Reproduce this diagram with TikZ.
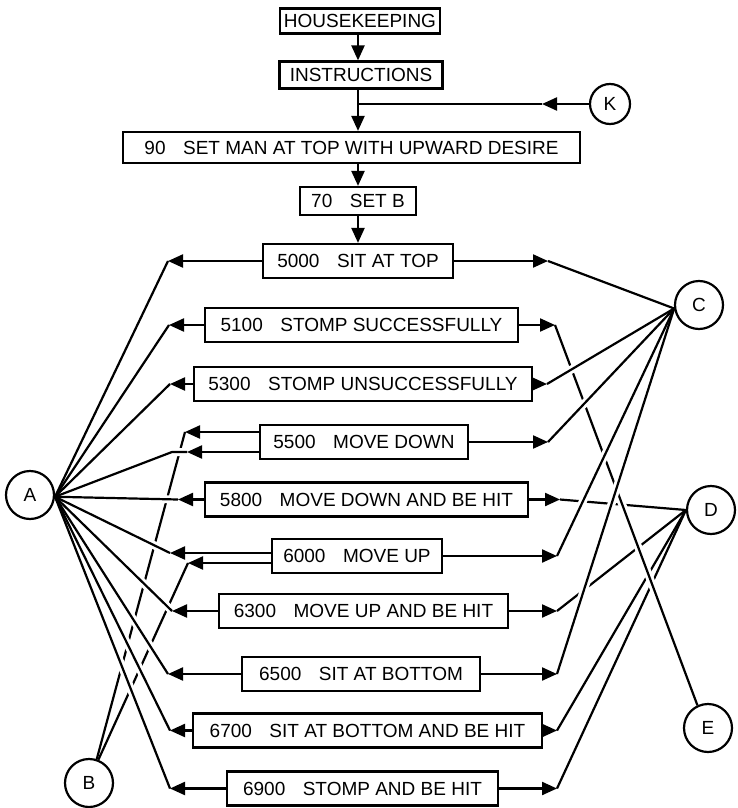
\documentclass[tikz,border=0pt]{standalone}
\usepackage{fontspec}
\setmainfont{Liberation Sans}
\usetikzlibrary{arrows.meta,calc}
\newcommand\numgap{\hspace{17.5pt}}
\begin{document}
\begin{tikzpicture}[x=1pt,y=-1pt,
  line width=2.2pt,
  every node/.style={font=\fontsize{19}{22}\selectfont},
  stepbox/.style={draw, rectangle, line width=2.2pt, minimum height=34pt, inner xsep=4pt, inner ysep=0pt},
  ring/.style={draw, circle, line width=2.2pt, minimum size=48pt, inner sep=0pt},
  arr/.style={-{Triangle[length=15pt,width=13pt]}},
  halo/.style={draw=white, line width=8pt},
]
\useasboundingbox (0,0) rectangle (737,808);
\coordinate (axis) at (358,0);

% ---------- set-up chain ----------
\node[stepbox, minimum width=158pt, minimum height=25pt] (hk)  at (360,21)    {HOUSEKEEPING};
\node[stepbox, minimum width=163pt, minimum height=27pt] (ins) at (361,75)    {INSTRUCTIONS};
\node[stepbox, minimum width=457pt, minimum height=31pt] (m90) at (351.5,147.5) {90\numgap SET MAN AT TOP WITH UPWARD DESIRE};
\node[stepbox, minimum width=116pt, minimum height=28pt] (s70) at (358,201)   {70\numgap SET B};

% ---------- state routines ----------
\node[stepbox, minimum width=190pt] (s5000) at (358,261)   {5000\numgap SIT AT TOP};
\node[stepbox, minimum width=313pt] (s5100) at (361.5,325) {5100\numgap STOMP SUCCESSFULLY};
\node[stepbox, minimum width=338pt] (s5300) at (363,384)   {5300\numgap STOMP UNSUCCESSFULLY};
\node[stepbox, minimum width=208pt] (s5500) at (364,442)   {5500\numgap MOVE DOWN};
\node[stepbox, minimum width=323pt] (s5800) at (366.5,499.5) {5800\numgap MOVE DOWN AND BE HIT};
\node[stepbox, minimum width=170pt] (s6000) at (357,556)   {6000\numgap MOVE UP};
\node[stepbox, minimum width=289pt] (s6300) at (363.5,611) {6300\numgap MOVE UP AND BE HIT};
\node[stepbox, minimum width=238pt] (s6500) at (361,674)   {6500\numgap SIT AT BOTTOM};
\node[stepbox, minimum width=349pt] (s6700) at (367.5,730.5) {6700\numgap SIT AT BOTTOM AND BE HIT};
\node[stepbox, minimum width=271pt] (s6900) at (362.5,788.5) {6900\numgap STOMP AND BE HIT};

% ---------- connectors ----------
\node[ring] (A) at (30,495)  {A};
\node[ring] (B) at (89,783)  {B};
\node[ring] (C) at (699,305) {C};
\node[ring] (D) at (711,510) {D};
\node[ring] (E) at (708,728) {E};
\node[ring, minimum size=40pt] (K) at (610,104) {K};

% ---------- top flow ----------
\coordinate (kt) at (542,104);
\coordinate (kj) at (358,104);
\draw[arr] (hk.south -| axis) -- (ins.north -| axis);
\draw[arr] (ins.south -| axis) -- (m90.north -| axis);
\draw[arr] (K.west) -- (kt);
\draw (kt) -- (kj);
\draw[arr] (m90.south -| axis) -- (s70.north -| axis);
\draw[arr] (s70.south -| axis) -- (s5000.north -| axis);

% ---------- left arrow tips ----------
\coordinate (L5000)  at (168,261);
\coordinate (L5100)  at (169,325);
\coordinate (L5300)  at (170,384);
\coordinate (L5500a) at (185,432);
\coordinate (L5500b) at (187,452);
\coordinate (J5500)  at (172,452);
\coordinate (L5800)  at (178,499.5);
\coordinate (L6000a) at (170,553);
\coordinate (L6000b) at (188,563);
\coordinate (L6300)  at (172,611);
\coordinate (L6500)  at (168,674);
\coordinate (L6700)  at (170,730.5);
\coordinate (L6900)  at (170,788.5);
\coordinate (Aj) at (A.-4);

% ---------- right arrow tips ----------
\coordinate (R5000) at (548,261);
\coordinate (R5100) at (555,325);
\coordinate (R5300) at (547,384);
\coordinate (R5500) at (548,442);
\coordinate (R5800) at (560,499.5);
\coordinate (R6000) at (557,556);
\coordinate (R6300) at (557,611);
\coordinate (R6500) at (557,674);
\coordinate (R6700) at (557,730.5);
\coordinate (R6900) at (557,788.5);
\coordinate (Cj) at (C.188);
\coordinate (Dj) at (D.west);
\coordinate (Ej) at (E.115);

% B lines run underneath
\draw (B.72) -- (L5500a);
\draw (B.68) -- (L6000b);

% A lines cross over them
\foreach \t in {L5000,L5100,L5300,L5800,L6000a,L6300,L6500,L6700,L6900} {
  \draw[halo] (\t) -- ($(\t)!0.7!(Aj)$);
  \draw (\t) -- (Aj);
}
\draw[halo] (L5500b) -- (J5500) -- ($(J5500)!0.6!(Aj)$);
\draw (L5500b) -- (J5500) -- (Aj);

% D lines lie lowest on the right
\foreach \t in {R5800,R6300,R6700,R6900} {
  \draw (\t) -- (Dj);
}
% E line over the D lines
\draw[halo] (R5100) -- ($(R5100)!0.9!(Ej)$);
\draw (R5100) -- (Ej);
% C lines on top
\foreach \t in {R5000,R5300,R5500,R6000,R6500} {
  \draw[halo] (\t) -- ($(\t)!0.8!(Cj)$);
  \draw (\t) -- (Cj);
}

% ---------- box arrows ----------
\foreach \b in {5000,5100,5300,5800,6300,6500,6700,6900} {
  \draw[arr] (s\b.west) -- (L\b);
}
\draw[arr] (s5500.west |- L5500a) -- (L5500a);
\draw[arr] (s5500.west |- L5500b) -- (L5500b);
\draw[arr] (s6000.west |- L6000a) -- (L6000a);
\draw[arr] (s6000.west |- L6000b) -- (L6000b);
\foreach \b in {5000,5100,5300,5500,5800,6000,6300,6500,6700,6900} {
  \draw[arr] (s\b.east) -- (R\b);
}
\end{tikzpicture}
\end{document}
